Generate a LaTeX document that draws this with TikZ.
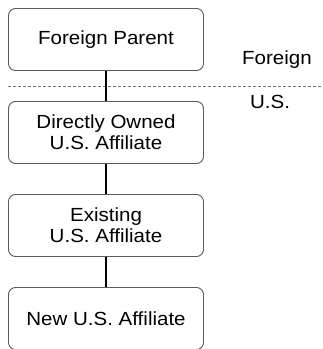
\documentclass[tikz,border=0pt]{standalone}
\usepackage{fontspec}
\setmainfont[FakeStretch=1.08]{Liberation Sans}
\begin{document}
\begin{tikzpicture}[x=1pt,y=-1pt,
  box/.style={draw=black!65, line width=0.9pt, rounded corners=7pt, minimum width=195pt, minimum height=62pt, align=center, inner sep=0pt, font=\fontsize{19}{21}\selectfont, fill=white},
  conn/.style={line width=2.8pt, black},
  lbl/.style={font=\fontsize{19}{21}\selectfont, inner sep=0pt}]
\useasboundingbox (0,0) rectangle (323,349);
\node[box] (fp) at (106,39.5) {Foreign Parent};
\node[box] (do) at (106,132.5) {Directly Owned\\U.S. Affiliate};
\node[box] (ex) at (106,225.5) {Existing\\U.S. Affiliate};
\node[box] (nw) at (106,318.5) {New U.S. Affiliate};
\coordinate (dl) at (8,86);
\coordinate (dr) at (323,86);
\draw[black!55, dash pattern=on 3pt off 2pt, line width=1pt] (dl) -- (dr);
\draw[conn] (fp) -- (do);
\draw[conn] (do) -- (ex);
\draw[conn] (ex) -- (nw);
\node[lbl] (fo) at (277,60) {Foreign};
\node[lbl] (us) at (270,101.5) {U.S.};
\end{tikzpicture}
\end{document}
